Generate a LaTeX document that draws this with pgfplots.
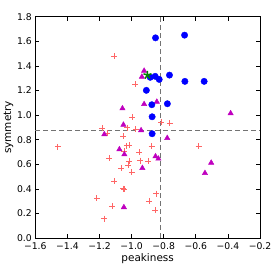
\documentclass[border=0pt]{standalone}
\usepackage{pgfplots}
\pgfplotsset{compat=1.18}
\usepackage{fontspec}
\setmainfont{DejaVu Sans}
\definecolor{mplmag}{rgb}{0.75,0,0.75}
\definecolor{mplgreen}{rgb}{0,0.5,0}
\definecolor{plusred}{rgb}{1,0.4,0.4}
\begin{document}
\begin{tikzpicture}
\begin{axis}[
  scale only axis,
  width=224.7bp, height=221.3bp,
  xmin=-1.6, xmax=-0.2, ymin=0, ymax=1.8,
  xtick={-1.6,-1.4,-1.2,-1.0,-0.8,-0.6,-0.4,-0.2},
  xticklabels={−1.6,−1.4,−1.2,−1.0,−0.8,−0.6,−0.4,−0.2},
  ytick={0,0.2,0.4,0.6,0.8,1.0,1.2,1.4,1.6,1.8},
  yticklabels={0.0,0.2,0.4,0.6,0.8,1.0,1.2,1.4,1.6,1.8},
  tick align=inside, major tick length=4bp,
  tick style={black, line width=0.6bp},
  axis line style={line width=0.9bp},
  ticklabel style={font=\fontsize{9.3}{11}\selectfont},
  xticklabel style={yshift=-1.5bp},
  label style={font=\fontsize{10.5}{12}\selectfont},
  xlabel={peakiness}, ylabel={symmetry},
  xlabel style={yshift=3bp},
  ylabel style={yshift=-3bp},
  clip=false,
]
\addplot[gray!90!black, line width=1.3bp, dash pattern=on 5bp off 3bp] coordinates {(-0.818,0) (-0.818,1.8)};
\addplot[gray!90!black, line width=1.3bp, dash pattern=on 5bp off 3bp] coordinates {(-1.6,0.872) (-0.2,0.872)};
% red pluses
\addplot[only marks, mark=+, mark size=3bp, mark options={plusred, line width=0.6bp}] coordinates {
(-1.107,1.477) (-0.976,1.249) (-0.997,0.981) (-0.814,0.941) (-0.762,0.933)
(-1.184,0.892) (-1.026,0.897) (-0.974,0.886) (-1.151,0.851) (-1.051,0.829)
(-1.460,0.742) (-1.030,0.750) (-1.016,0.753) (-0.876,0.748) (-0.583,0.745)
(-0.953,0.699) (-1.045,0.705) (-1.138,0.648) (-1.014,0.623) (-0.947,0.629)
(-0.895,0.623) (-1.020,0.591) (-1.065,0.567) (-0.999,0.537) (-1.109,0.461)
(-1.051,0.401) (-1.045,0.398) (-0.847,0.360) (-1.217,0.323) (-0.891,0.301)
(-1.120,0.260) (-0.853,0.225) (-1.171,0.157)
};
% magenta triangles
\addplot[only marks, mark=triangle*, mark size=3.1bp, mark options={mplmag, fill=mplmag}] coordinates {
(-0.922,1.360) (-0.936,1.311) (-1.057,1.054) (-0.922,1.089) (-0.843,1.108)
(-0.383,1.014) (-1.051,0.921) (-0.941,0.876) (-1.170,0.843) (-0.778,0.813)
(-1.076,0.721) (-1.045,0.680) (-0.851,0.664) (-0.833,0.645) (-0.933,0.569)
(-0.504,0.612) (-0.543,0.528) (-1.048,0.250)
};
% blue circles
\addplot[only marks, mark=*, mark size=3.2bp, mark options={blue, fill=blue}] coordinates {
(-0.851,1.628) (-0.670,1.650) (-0.764,1.325) (-0.884,1.307) (-0.853,1.315)
(-0.828,1.290) (-0.668,1.274) (-0.548,1.274) (-0.908,1.201) (-0.777,1.092)
(-0.874,1.084) (-0.872,0.986) (-0.872,0.848)
};
% green star
\addplot[only marks, mark=star, mark size=4.2bp, mark options={mplgreen, line width=1.5bp}] coordinates {(-0.901,1.325)};
\end{axis}
\pgfresetboundingbox
\path[use as bounding box] (-35.3bp,-36bp) rectangle (238.7bp,238bp);
\end{tikzpicture}
\end{document}
